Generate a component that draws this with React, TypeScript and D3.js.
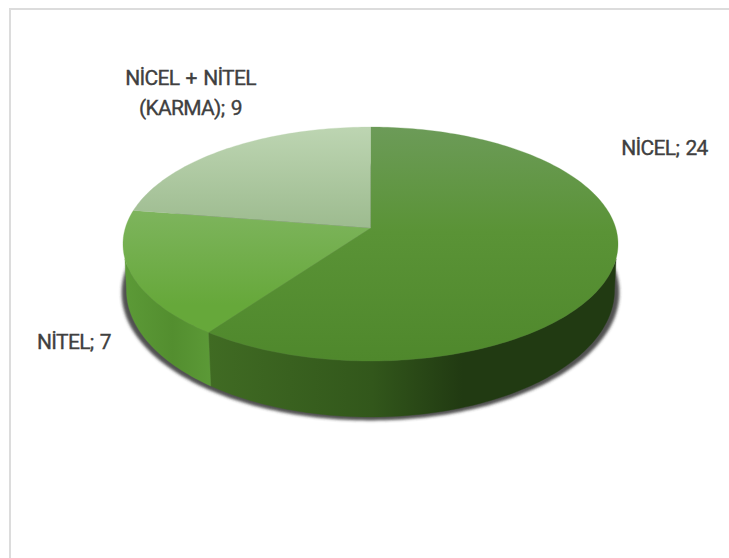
import React from "react";
import * as d3 from "d3";

const categories = ["NİCEL", "NİTEL", "NİCEL + NİTEL (KARMA)"];
const values = [24, 7, 9];
const labelLines = [["NİCEL; 24"], ["NİTEL; 7"], ["NİCEL + NİTEL", "(KARMA); 9"]];
const labelAnchors = [[664.5, 155], [74, 349], [190.5, 85]];

const topStops = [
  [["0%", "#6c9b58"], ["45%", "#5a9336"], ["100%", "#4f882c"]],
  [["0%", "#7fb55f"], ["100%", "#66a83a"]],
  [["0%", "#bdd5b2"], ["100%", "#9dbb8f"]],
];
const wallStops = [
  [["0%", "#406b23"], ["40%", "#32571b"], ["62%", "#213a12"], ["100%", "#213a12"]],
  [["0%", "#5c9a37"], ["55%", "#538e2f"], ["100%", "#5c9a37"]],
  [["0%", "#7a9a6c"], ["100%", "#7a9a6c"]],
];

const WIDTH = 729;
const HEIGHT = 558;
const CX = 370.5;
const TILT = 0.137;

// Perspective rims of the disc: the top face and the smaller, lower base.
const TOP_RIM = { y0: 228, rx: 245.2, ry: 114.8 };
const BASE_RIM = { y0: 272.6, rx: 241.7, ry: 124.6 };
const SHADOW_RIM = { y0: 275, rx: 246.5, ry: 125.5 };

type Rim = { y0: number; rx: number; ry: number };

const project = (rim: Rim, angle: number): [number, number] => {
  const u = Math.sin(angle);
  const v = -Math.cos(angle);
  const w = 1 - TILT * v;
  return [CX + (rim.rx * u) / w, rim.y0 + (rim.ry * v) / w];
};

const rimAngles = (a0: number, a1: number) => {
  const n = Math.max(2, Math.ceil((a1 - a0) / 0.02));
  return d3.range(n + 1).map((i) => a0 + ((a1 - a0) * i) / n);
};

const deg = (d: number) => (d * Math.PI) / 180;
const line = d3.line<[number, number]>();
const arcs = d3.pie<number>().sort(null)(values);

const topPath = (a0: number, a1: number) =>
  line([[CX, TOP_RIM.y0], ...rimAngles(a0, a1).map((a) => project(TOP_RIM, a))])! + "Z";

// The silhouette leaves the top rim a little below its widest point, so the
// visible range differs slightly between the two rims.
const wallPath = (a0: number, a1: number) => {
  const t0 = Math.max(a0, deg(105));
  const t1 = Math.min(a1, deg(255));
  const b0 = Math.max(a0, deg(98));
  const b1 = Math.min(a1, deg(262));
  if (t1 <= t0) return null;
  return (
    line([
      ...rimAngles(t0, t1).map((a) => project(TOP_RIM, a)),
      ...rimAngles(b0, b1).reverse().map((a) => project(BASE_RIM, a)),
    ])! + "Z"
  );
};

const shadowPath = line(rimAngles(0, Math.PI * 2).map((a) => project(SHADOW_RIM, a)))! + "Z";

export default function App() {
  return (
    <svg
      width={WIDTH}
      height={HEIGHT}
      viewBox={`0 0 ${WIDTH} ${HEIGHT}`}
      style={{ position: "absolute", left: 0, top: 0, display: "block", background: "#fff" }}
    >
      <defs>
        <filter id="wallShadow" x="-10%" y="-10%" width="120%" height="130%">
          <feGaussianBlur stdDeviation="1.7" />
        </filter>
        {arcs.map((_, i) => (
          <linearGradient
            key={`t${i}`}
            id={`top${i}`}
            gradientUnits="userSpaceOnUse"
            x1={0}
            x2={0}
            y1={i === 1 ? 205 : 127}
            y2={i === 0 ? 361 : i === 1 ? 305 : 228}
          >
            {topStops[i].map(([o, c]) => (
              <stop key={o} offset={o} stopColor={c} />
            ))}
          </linearGradient>
        ))}
        {arcs.map((_, i) => (
          <linearGradient
            key={`w${i}`}
            id={`wall${i}`}
            gradientUnits="userSpaceOnUse"
            x1={i === 1 ? 124 : 208}
            x2={i === 1 ? 212 : 618}
            y1={0}
            y2={0}
          >
            {wallStops[i].map(([o, c]) => (
              <stop key={o} offset={o} stopColor={c} />
            ))}
          </linearGradient>
        ))}
      </defs>

      <rect x={10} y={9} width={WIDTH + 20} height={HEIGHT + 20} fill="#fff" stroke="#dcdcdc" strokeWidth={2} />

      <path d={shadowPath} fill="#333" fillOpacity={0.85} filter="url(#wallShadow)" />

      {arcs.map((a, i) => {
        const d = wallPath(a.startAngle, a.endAngle);
        return d ? <path key={i} d={d} fill={`url(#wall${i})`} stroke={`url(#wall${i})`} strokeWidth={0.4} /> : null;
      })}
      {arcs.map((a, i) => (
        <path
          key={i}
          d={topPath(a.startAngle, a.endAngle)}
          fill={`url(#top${i})`}
          stroke={`url(#top${i})`}
          strokeWidth={0.3}
        />
      ))}

      {labelLines.map((lines, i) => (
        <text
          key={categories[i]}
          aria-label={`${categories[i]}; ${values[i]}`}
          x={labelAnchors[i][0]}
          y={labelAnchors[i][1]}
          textAnchor="middle"
          fontFamily="Roboto, sans-serif"
          fontSize={21}
          fontWeight={400}
          letterSpacing={-0.7}
          wordSpacing={1.8}
          fill="#404040"
          stroke="#404040"
          strokeWidth={0.35}
        >
          {lines.map((l, j) => (
            <tspan key={l} x={labelAnchors[i][0]} dy={j === 0 ? 0 : 29.5}>
              {l}
            </tspan>
          ))}
        </text>
      ))}
    </svg>
  );
}
